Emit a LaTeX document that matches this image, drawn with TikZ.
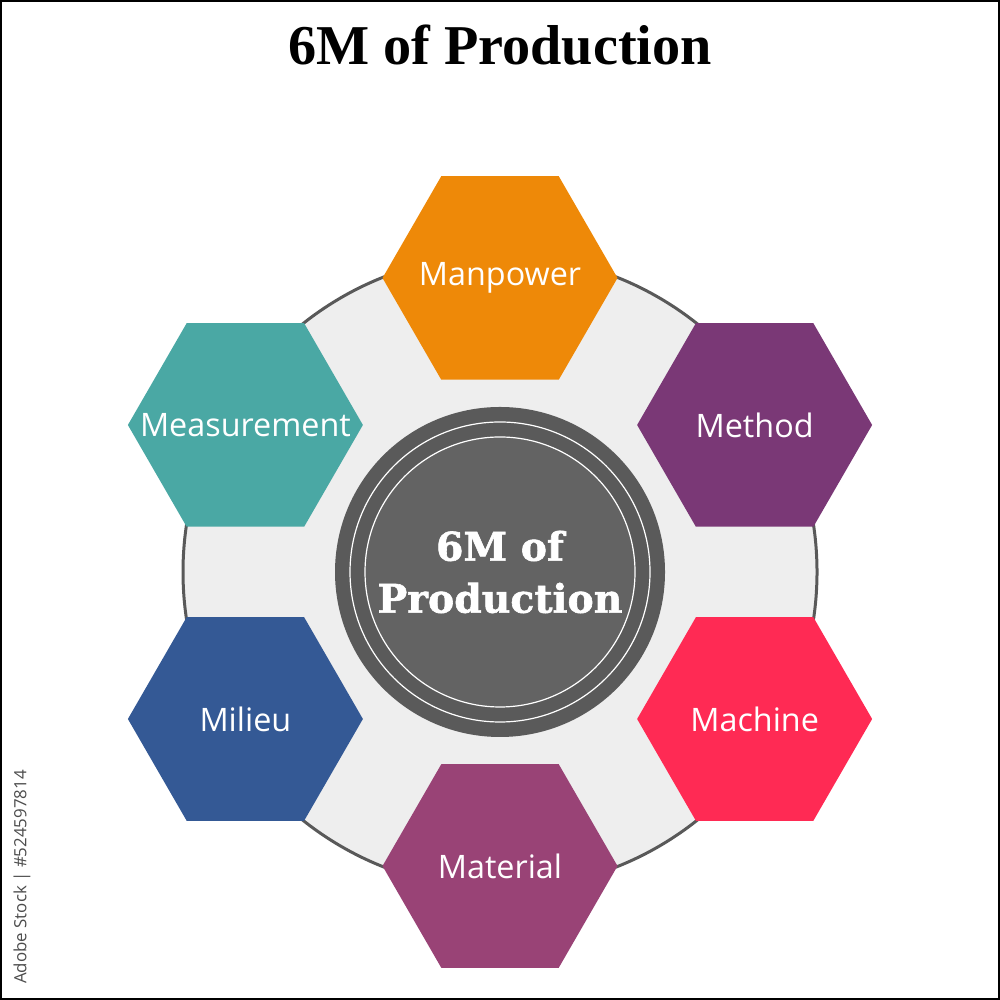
\documentclass[tikz,border=0pt]{standalone}
\usepackage{fontspec}
\setmainfont{Liberation Serif}
\newfontfamily\labelfont{Open Sans}
\newfontfamily\hubfont[BoldFeatures={FakeBold=1.5}]{DejaVu Serif}
\usetikzlibrary{shapes.geometric}

\definecolor{manpowerc}{RGB}{238,137,8}
\definecolor{methodc}{RGB}{122,56,118}
\definecolor{machinec}{RGB}{255,42,84}
\definecolor{materialc}{RGB}{153,67,118}
\definecolor{milieuc}{RGB}{52,89,149}
\definecolor{measurec}{RGB}{74,168,164}
\definecolor{ringfill}{RGB}{238,238,238}
\definecolor{ringline}{RGB}{89,89,89}
\definecolor{hubouter}{RGB}{90,90,90}
\definecolor{hubinner}{RGB}{99,99,99}

\begin{document}
\begin{tikzpicture}[hex/.style = {regular polygon, regular polygon sides=6, minimum size=2.35cm, inner sep=0pt},
    hexlabel/.style = {label={[text=white, font=\labelfont\fontsize{9.2}{11}\selectfont]center:#1}}]
    \useasboundingbox (0,0) rectangle (10,10);
    \draw[line width=0.025cm] (0.0125,0.0125) rectangle (9.9875,9.9875);
    \node (title) at (5,9.55) {\fontsize{16}{19}\selectfont\bfseries 6M of Production};
    \node[rotate=90, text=black!70, font=\labelfont\fontsize{4.8}{6}\selectfont] (stock) at (0.22,1.23) {Adobe Stock | \#524597814};

    \coordinate (c) at (5,4.28);
    % ring and hub
    \node[circle, draw=ringline, line width=0.03cm, fill=ringfill, minimum size=6.34cm] (ring) at (c) {};
    \node[circle, fill=hubouter, minimum size=3.3cm] (hub) at (c) {};
    \node[circle, draw=white, line width=0.012cm, minimum size=3.0cm] (hubline) at (c) {};
    \node[circle, draw=white, fill=hubinner, line width=0.012cm, minimum size=2.7cm] (hubcore) at (c) {};
    \node[align=center, text=white, font=\hubfont\bfseries\fontsize{11.2}{14.8}\selectfont] (hubtext) at (c) {6M of\\Production};

    % the six M
    \node[hex, fill=manpowerc, hexlabel=Manpower] (manpower) at ([shift={(90:2.94)}]c) {};
    \node[hex, fill=methodc, hexlabel=Method] (method) at ([shift={(30:2.94)}]c) {};
    \node[hex, fill=machinec, hexlabel=Machine] (machine) at ([shift={(-30:2.94)}]c) {};
    \node[hex, fill=materialc, hexlabel=Material] (material) at ([shift={(-90:2.94)}]c) {};
    \node[hex, fill=milieuc, hexlabel=Milieu] (milieu) at ([shift={(-150:2.94)}]c) {};
    \node[hex, fill=measurec, hexlabel=Measurement] (measurement) at ([shift={(150:2.94)}]c) {};
\end{tikzpicture}
\end{document}
